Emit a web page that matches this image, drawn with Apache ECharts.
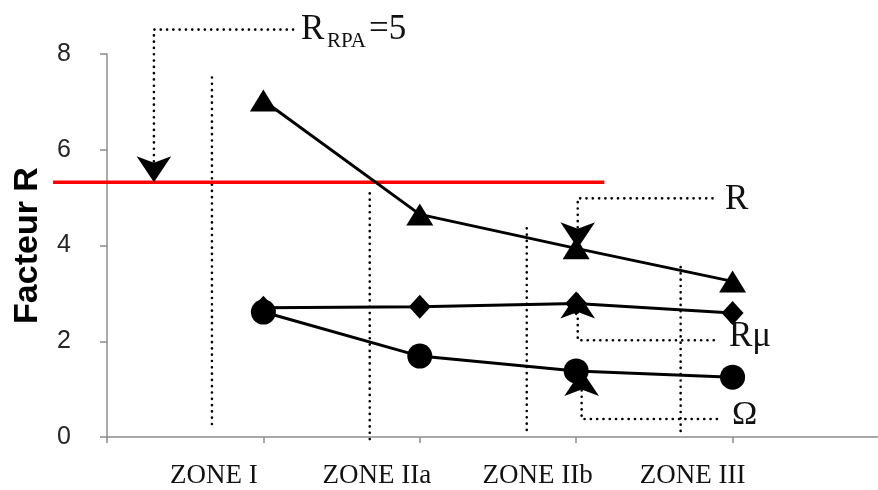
<!DOCTYPE html>
<html>
<head>
<meta charset="utf-8">
<script src="https://cdn.jsdelivr.net/npm/echarts@6/dist/echarts.min.js"></script>
<style>
  html, body { margin: 0; padding: 0; background: #fff; }
  #chart { width: 878px; height: 490px; }
</style>
</head>
<body>
<div id="chart"></div>
<script>
// ---- data ----
const zones = ['ZONE I', 'ZONE IIa', 'ZONE IIb', 'ZONE III'];
const zonePositions = [1, 2, 3, 4];
const zoneLabelPositions = [0.684, 1.725, 2.754, 3.744];
const facteurR = [7.03, 4.65, 3.94, 3.25];
const facteurRmu = [2.70, 2.72, 2.79, 2.59];
const facteurOmega = [2.61, 1.69, 1.38, 1.25];
const yTickValues = [0, 2, 4, 6, 8];
const rRpaLevel = 5.32;
const rRpaSpan = [-0.345, 3.18];
const yAxisTitle = 'Facteur R';

// ---- annotation geometry (data coordinates) ----
const separators = [
  [[0.671, 7.51], [0.671, 0.15]],
  [[1.680, 5.09], [1.680, -0.17]],
  [[2.684, 4.36], [2.684, 0.04]],
  [[3.668, 3.55], [3.668, 0.08]]
];
const leaders = [
  [[1.19, 8.51], [0.300, 8.51], [0.300, 5.45]],
  [[3.872, 4.985], [3.01, 4.985], [3.01, 4.10]],
  [[3.88, 2.02], [3.01, 2.02], [3.01, 2.85]],
  [[3.90, 0.375], [3.035, 0.375], [3.035, 1.25]]
];
const arrows = [
  { at: [0.300, rRpaLevel], dir: 'down' },
  { at: [3.01, 3.94], dir: 'down' },
  { at: [3.01, 3.02], dir: 'up' },
  { at: [3.035, 1.40], dir: 'up' }
];

const chart = echarts.init(document.getElementById('chart'), null, { renderer: 'canvas' });

const dotted = { color: '#000', width: 2.6, type: [0.1, 6.2], cap: 'round' };
const axisGray = '#8c8c8c';

const series = [];
separators.concat(leaders).forEach(pts => {
  series.push({
    type: 'line', data: pts, symbol: 'none', clip: false, silent: true,
    lineStyle: dotted, z: 1
  });
});
arrows.forEach(a => {
  series.push({
    type: 'scatter', data: [a.at], symbol: 'arrow', symbolSize: [26, 26],
    symbolRotate: a.dir === 'down' ? 180 : 0,
    symbolOffset: [0, 0],
    itemStyle: { color: '#000', opacity: 1 }, clip: false, silent: true, z: 4
  });
});
const mk = (vals) => vals.map((v, i) => [zonePositions[i], v]);
series.push({
  name: 'R', type: 'line', data: mk(facteurR), symbol: 'triangle', symbolSize: [27, 22],
  lineStyle: { color: '#000', width: 3 }, itemStyle: { color: '#000', opacity: 1 }, z: 3, clip: false
});
series.push({
  name: 'Rμ', type: 'line', data: mk(facteurRmu), symbol: 'diamond', symbolSize: [22, 24],
  lineStyle: { color: '#000', width: 3 }, itemStyle: { color: '#000', opacity: 1 }, z: 3, clip: false
});
series.push({
  name: 'Ω', type: 'line', data: mk(facteurOmega), symbol: 'circle', symbolSize: 25,
  lineStyle: { color: '#000', width: 3 }, itemStyle: { color: '#000', opacity: 1 }, z: 3, clip: false
});

const serif = 'Liberation Serif, Times New Roman, serif';
const txt = (id, text, x, y, size) => ({
  id: id, type: 'text', x: x, y: y, silent: true, z: 5,
  style: { text: text, font: size + 'px ' + serif, fill: '#111', align: 'left', verticalAlign: 'middle' }
});

chart.setOption({
  animation: false,
  backgroundColor: '#fff',
  grid: { left: 107, right: 0, top: 54, bottom: 53, containLabel: false, outerBoundsMode: 'none' },
  xAxis: {
    type: 'value', min: 0, max: 4.93,
    axisLine: { show: true, lineStyle: { color: axisGray, width: 1.5 } },
    axisTick: { show: true, length: 6, customValues: [0].concat(zonePositions), lineStyle: { color: axisGray, width: 1.5 } },
    axisLabel: {
      customValues: zoneLabelPositions,
      formatter: function (v) {
        let best = 0;
        zoneLabelPositions.forEach((p, i) => { if (Math.abs(p - v) < Math.abs(zoneLabelPositions[best] - v)) best = i; });
        return zones[best];
      },
      margin: 25, fontFamily: serif, fontSize: 27, color: '#111'
    },
    splitLine: { show: false }
  },
  yAxis: {
    type: 'value', min: 0, max: 8, interval: 2,
    name: yAxisTitle, nameLocation: 'middle', nameRotate: 90, nameGap: 62,
    nameTextStyle: { fontFamily: 'Liberation Sans, Arial, sans-serif', fontWeight: 'bold', fontSize: 34, color: '#000' },
    axisLine: { show: true, lineStyle: { color: axisGray, width: 1.5 } },
    axisTick: { show: true, length: 7, lineStyle: { color: axisGray, width: 1.5 } },
    axisLabel: {
      margin: 36, fontFamily: 'Liberation Sans, Arial, sans-serif', fontSize: 25, color: '#262626',
      formatter: v => (yTickValues.indexOf(v) >= 0 ? String(v) : '')
    },
    splitLine: { show: false }
  },
  series: series
});

// red R_RPA line: placed through the chart's own x/y scales, extended left of the y axis
const p0 = chart.convertToPixel({ gridIndex: 0 }, [0, rRpaLevel]);
const p1 = chart.convertToPixel({ gridIndex: 0 }, [1, rRpaLevel]);
const unitX = p1[0] - p0[0];
chart.setOption({
  graphic: [
    {
      id: 'rRpaLine', type: 'line', z: 2, silent: true,
      shape: { x1: p0[0] + unitX * rRpaSpan[0], y1: p0[1], x2: p0[0] + unitX * rRpaSpan[1], y2: p0[1] },
      style: { stroke: '#ff0000', lineWidth: 3.5 }
    },
    txt('t1', 'R', 301, 30, 35),
    txt('t2', 'RPA', 327, 41, 21),
    txt('t3', '=5', 369, 30, 35),
    txt('t4', 'R', 725, 200, 35),
    txt('t5', 'Rμ', 729, 337, 35),
    txt('t6', 'Ω', 732, 415, 34)
  ]
});
</script>
</body>
</html>
